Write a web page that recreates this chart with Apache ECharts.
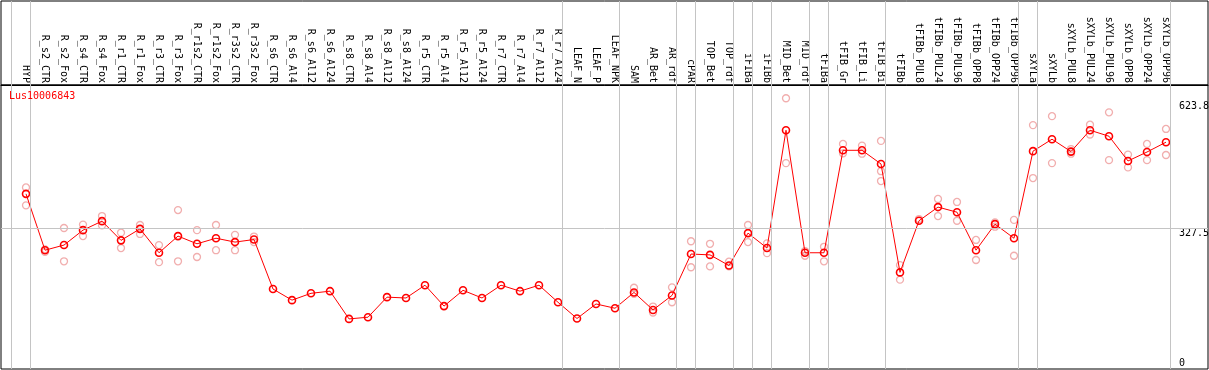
<!DOCTYPE html>
<html>
<head>
<meta charset="utf-8">
<script src="https://cdn.jsdelivr.net/npm/echarts@6/dist/echarts.min.js"></script>
<style>
html,body{margin:0;padding:0;background:#fff;}
#chart{width:1209px;height:370px;}
</style>
</head>
<body>
<div id="chart"></div>
<script>
const geneName = 'Lus10006843';
const categories = ['HYP','R_s2_CTR','R_s2_Fox','R_s4_CTR','R_s4_Fox','R_r1_CTR','R_r1_Fox','R_r3_CTR','R_r3_Fox','R_r1s2_CTR','R_r1s2_Fox','R_r3s2_CTR','R_r3s2_Fox','R_s6_CTR','R_s6_Al4','R_s6_Al12','R_s6_Al24','R_s8_CTR','R_s8_Al4','R_s8_Al12','R_s8_Al24','R_r5_CTR','R_r5_Al4','R_r5_Al12','R_r5_Al24','R_r7_CTR','R_r7_Al4','R_r7_Al12','R_r7_Al24','LEAF_N','LEAF_P','LEAF_NPK','SAM','AR_Bet','AR_rdf','cPAR','TOP_Bet','TOP_rdf','iFIBa','iFIBb','MID_Bet','MID_rdf','tFIBa','tFIB_Gr','tFIB_Li','tFIB_Bi','tFIBb','tFIBb_PUL8','tFIBb_PUL24','tFIBb_PUL96','tFIBb_OPP8','tFIBb_OPP24','tFIBb_OPP96','sXYLa','sXYLb','sXYLb_PUL8','sXYLb_PUL24','sXYLb_PUL96','sXYLb_OPP8','sXYLb_OPP24','sXYLb_OPP96'];
const meanValues = [408,276,288,323,344,299,326,270,309,291,304,295,301,185,159,175,180,115,119,166,164,194,145,182,164,194,180,194,154,116,150,140,177,136,170,267,265,240,316,281,557,270,270,510,510,478,224,345,377,365,276,337,304,508,536,507,557,543,485,506,529];
const repA = [423,278,328,336,356,317,335,288,370,323,335,312,308,null,null,null,null,null,null,null,null,null,null,null,null,null,null,null,null,null,null,null,188,144,189,297,291,249,335,292,632,274,284,525,521,532,241,349,396,389,300,341,347,569,590,513,570,599,500,525,560];
const repB = [381,272,250,309,334,281,314,248,250,260,276,276,295,null,null,null,null,null,null,null,null,null,null,null,null,null,null,null,null,null,null,null,174,130,154,236,238,238,295,269,480,263,250,503,502,461,207,null,356,345,253,331,263,445,480,502,547,487,470,487,499];
const repC = [null,null,null,null,null,null,null,null,null,null,null,null,null,null,null,null,null,null,null,null,null,null,null,null,null,null,null,null,null,null,null,null,null,null,null,null,null,null,null,null,null,null,null,null,null,438,null,null,null,null,null,null,null,null,null,null,null,null,null,null,null];
const groupSizes = [1,28,3,3,1,2,1,1,2,1,3,7,1,7];
const yTickLabels = [327.5, 623.8];
const yZeroLabel = [0];
const refLineValue = 327.5;

// layout
const W = 1209, H = 370;
const step = 19, firstX = 26, gridL = 1, gridR = 1;
const headerTop = 1, plotTop = 85, plotBottom = 1;
const xMin = (gridL - firstX) / step;
const xMax = (W - gridR - firstX) / step;
const sepOffset = 15 / step;
const yMin = -2.34, yMax = 663;
const FONT = 'DejaVu Sans Mono';

const boundaries = [0];
let acc = 0;
groupSizes.forEach(s => { acc += s; boundaries.push(acc); });

const repData = [];
[repA, repB, repC].forEach(arr => arr.forEach((v, i) => { if (v !== null) repData.push([i, v]); }));
const meanData = meanValues.map((v, i) => [i, v]);

const sepLines = boundaries.map(b => ({xAxis: b - sepOffset}));
const gray = {color: '#c4c4c4', width: 1, type: 'solid'};

const chart = echarts.init(document.getElementById('chart'), null, {renderer: 'canvas'});
chart.setOption({
  animation: false,
  backgroundColor: '#fff',
  title: {
    text: geneName, left: 9, top: 91, padding: 0,
    textStyle: {color: '#ff0000', fontSize: 10, fontWeight: 'normal', fontFamily: FONT}
  },
  grid: [
    {left: gridL, right: gridR, top: plotTop, bottom: plotBottom, show: true, borderColor: '#000', borderWidth: 1, outerBoundsMode: 'none'},
    {left: gridL, right: gridR, top: headerTop, height: plotTop - headerTop, show: true, borderColor: '#000', borderWidth: 1, outerBoundsMode: 'none'}
  ],
  xAxis: [{
    gridIndex: 0, type: 'value', min: xMin, max: xMax, position: 'top',
    axisLine: {show: true, onZero: false, lineStyle: {color: '#000', width: 1}},
    axisTick: {show: false},
    splitLine: {show: false},
    axisLabel: {
      customValues: categories.map((_, i) => i),
      formatter: v => { const k = Math.round(v); return Math.abs(v - k) < 1e-6 && categories[k] ? categories[k] : ''; },
      rotate: 90, fontSize: 10, fontFamily: FONT, color: '#000', margin: 2
    }
  }, {
    gridIndex: 1, type: 'value', min: xMin, max: xMax, show: false
  }],
  yAxis: [{
    gridIndex: 0, type: 'value', min: yMin, max: yMax, position: 'right',
    axisLine: {show: false}, axisTick: {show: false}, splitLine: {show: false},
    axisLabel: {inside: true, customValues: yTickLabels, align: 'left', verticalAlign: 'top', margin: 29, fontSize: 10, fontFamily: FONT, color: '#000'}
  }, {
    gridIndex: 0, type: 'value', min: yMin, max: yMax, position: 'right',
    axisLine: {show: false}, axisTick: {show: false}, splitLine: {show: false},
    axisLabel: {inside: true, customValues: yZeroLabel, align: 'left', verticalAlign: 'bottom', margin: 29, fontSize: 10, fontFamily: FONT, color: '#000'}
  }, {
    gridIndex: 1, type: 'value', min: 0, max: 1, show: false
  }],
  series: [{
    type: 'scatter', name: 'headerSeparators', xAxisIndex: 1, yAxisIndex: 2,
    data: [[0, -1]], symbolSize: 0, silent: true, z: 1,
    markLine: {silent: true, symbol: ['none', 'none'], animation: false, label: {show: false}, lineStyle: gray, data: sepLines}
  }, {
    type: 'scatter', name: 'replicates', data: repData, silent: true, z: 2,
    symbol: 'circle', symbolSize: 7,
    itemStyle: {color: 'rgba(0,0,0,0)', borderColor: '#ee9a9a', borderWidth: 1.3},
    markLine: {
      silent: true, symbol: ['none', 'none'], animation: false,
      label: {show: false}, lineStyle: gray,
      data: sepLines.concat([{yAxis: refLineValue}])
    }
  }, {
    type: 'line', name: geneName, data: meanData, silent: true, z: 3,
    symbol: 'circle', symbolSize: 7, showAllSymbol: true,
    lineStyle: {color: '#ff0000', width: 1},
    itemStyle: {color: 'rgba(0,0,0,0)', borderColor: '#ff0000', borderWidth: 1.6}
  }]
});
</script>
</body>
</html>
